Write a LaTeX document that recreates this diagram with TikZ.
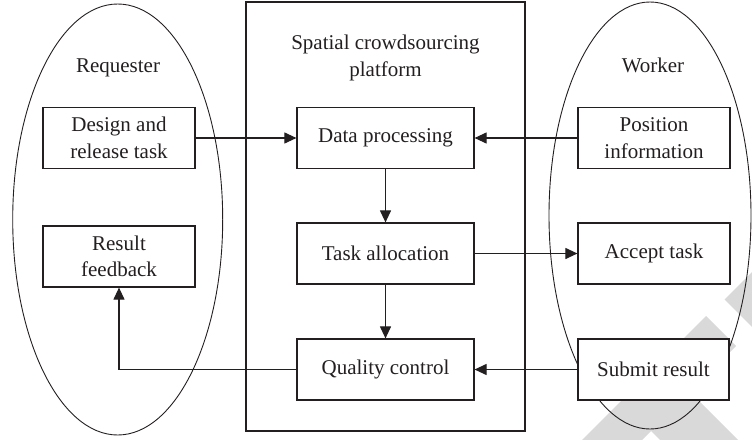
\documentclass[tikz,border=0pt]{standalone}
\usepackage{fontspec}
\setmainfont{Liberation Serif}
\usetikzlibrary{arrows.meta}
\definecolor{ink}{HTML}{231F20}
\definecolor{markgrey}{HTML}{D9D9D9}
\begin{document}
\begin{tikzpicture}[x=1pt,y=-1pt,
  txt/.style={font=\fontsize{21}{26.5}\selectfont, text=ink, align=center},
  box/.style={txt, draw=ink, line width=1.2pt, fill=white, inner sep=0pt,
    minimum width=152pt, minimum height=61pt},
  widebox/.style={box, minimum width=177pt},
  zone/.style={draw=ink, line width=0.9pt},
  flow/.style={draw=ink, line width=1.1pt, -{Triangle[length=12pt,width=11pt]}}]
\useasboundingbox (0,0) rectangle (752,439);

% light background marks in the lower right corner
\begin{scope}
  \clip (0,0) rectangle (752,439);
  \fill[markgrey] (706,316) -- (736,346) -- (622,460) -- (562,460) -- cycle;
  \fill[markgrey] (660,362) -- (760,462) -- (682,462) -- (621,401) -- cycle;
  \fill[markgrey] (724.5,299.5) -- (763.5,260.5) -- (860,357) -- (821,396) -- cycle;
\end{scope}

% the three parties
\draw[zone] (117.7,219.5) ellipse [x radius=105, y radius=215.5];
\draw[zone] (650,215.5) ellipse [x radius=101, y radius=213.5];
\draw[draw=ink, line width=1.2pt] (246,2) rectangle (525,431);

\node[txt] (req) at (118,68) {Requester};
\node[txt] (wrk) at (653,65) {Worker};
\node[txt] (plat) at (385.5,58) {Spatial crowdsourcing\\platform};

% requester side
\node[box] (design) at (119,138) {Design and\\release task};
\node[box] (feedback) at (119,256.5) {Result\\feedback};

% platform
\node[widebox] (data) at (385.5,138) {Data processing};
\node[widebox] (alloc) at (385.5,253.5) {Task allocation};
\node[widebox] (quality) at (385.5,369.5) {Quality control};

% worker side
\node[box] (position) at (654,138) {Position\\information};
\node[box] (accept) at (654,253.5) {Accept task};
\node[box, minimum width=151pt] (submit) at (653.5,369.5) {Submit result};

% connectors
\draw[flow] (design.east) -- (data.west);
\draw[flow] (position.west) -- (data.east);
\draw[flow] (data.south) -- (alloc.north);
\draw[flow] (alloc.south) -- (quality.north);
\draw[flow] (alloc.east) -- (accept.west);
\draw[flow] (submit.west) -- (quality.east);
\draw[flow] (quality.west) -| (feedback.south);
\end{tikzpicture}
\end{document}
